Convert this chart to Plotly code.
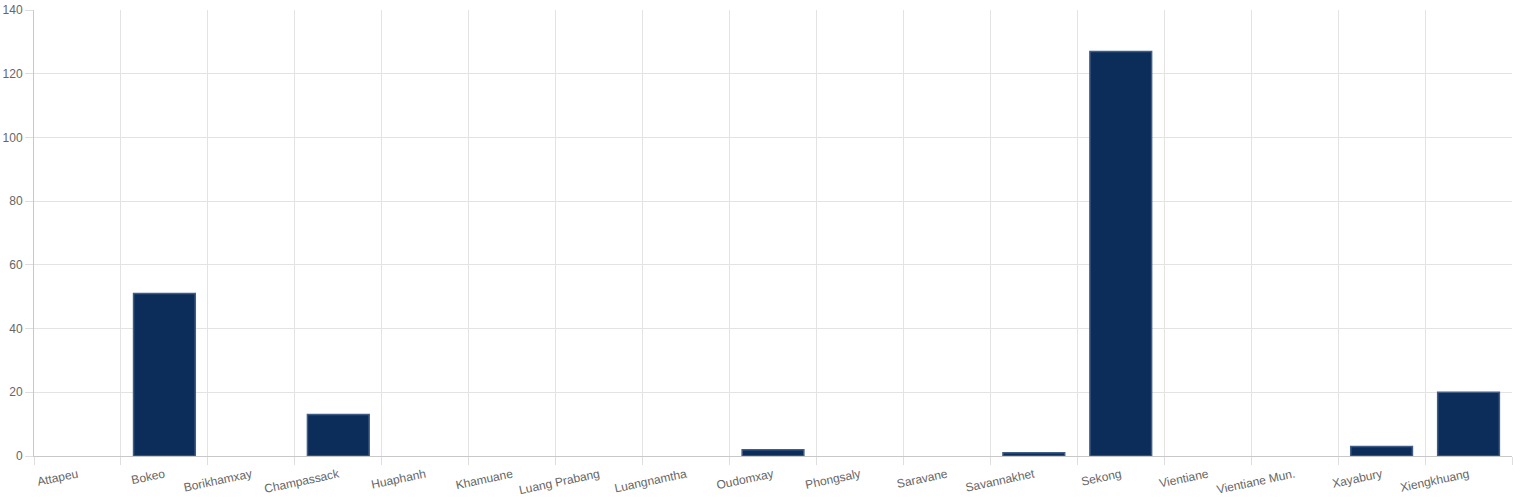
import plotly.graph_objects as go

provinces = ["Attapeu", "Bokeo", "Borikhamxay", "Champassack", "Huaphanh", "Khamuane",
             "Luang Prabang", "Luangnamtha", "Oudomxay", "Phongsaly", "Saravane",
             "Savannakhet", "Sekong", "Vientiane", "Vientiane Mun.", "Xayabury", "Xiengkhuang"]
values = [0, 51, 0, 13, 0, 0, 0, 0, 2, 0, 0, 1, 127, 0, 0, 3, 20]
y_ticks = [0, 20, 40, 60, 80, 100, 120, 140]

fig = go.Figure(go.Bar(
    x=provinces, y=values, width=0.71,
    marker=dict(color="#0c2d5a",
                line=dict(color="#3f5d87", width=[1.5 if v else 0 for v in values])),
))

font = dict(family="Liberation Sans, Arial, sans-serif", size=12, color="#666666")
fig.update_layout(
    width=1513, height=504,
    margin=dict(l=34, r=1, t=10, b=48, autoexpand=False),
    paper_bgcolor="white", plot_bgcolor="white",
    showlegend=False, font=font, bargap=0.29,
)
fig.update_xaxes(
    tickson="boundaries", ticks="outside", ticklen=8, tickcolor="#dedede",
    showgrid=True, gridcolor="#e3e3e3", gridwidth=1,
    showline=True, linecolor="#c8c8c8", linewidth=1,
    tickangle=-12, tickfont=font, zeroline=False, automargin=False,
    ticklabelstandoff=6,
)
fig.update_yaxes(
    range=[0, 140], tickvals=y_ticks, ticks="outside", ticklen=8, tickcolor="#dedede",
    showgrid=True, gridcolor="#e3e3e3", gridwidth=1,
    showline=True, linecolor="#c8c8c8", linewidth=1,
    zeroline=False, tickfont=font, automargin=False,
)
fig.write_html("out.html", config={"responsive": False, "displayModeBar": False},
               post_script="document.body.style.margin='0';document.body.style.overflow='hidden';")
